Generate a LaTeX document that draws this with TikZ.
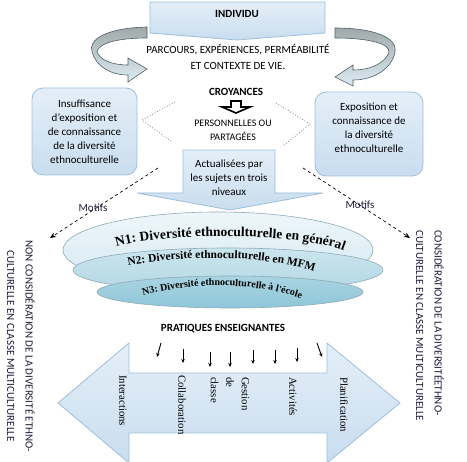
\documentclass[tikz,border=0pt]{standalone}
\usepackage{fontspec}
\setmainfont{Carlito}
\newfontfamily\tnr{Liberation Serif}
\usetikzlibrary{arrows.meta,decorations.text}
\definecolor{boxtop}{HTML}{E4EFF8}
\definecolor{boxbot}{HTML}{C9DDEF}
\definecolor{boxline}{HTML}{9DBEDC}
\definecolor{ribgray}{HTML}{A0A9A9}
\definecolor{ribblue}{HTML}{DCEBF4}
\definecolor{ribline}{HTML}{4F5F66}
\definecolor{eline}{HTML}{8FAAB8}
\definecolor{eone}{HTML}{D3E9F1}
\definecolor{eonel}{HTML}{EEF6FA}
\definecolor{etwo}{HTML}{B3D8E4}
\definecolor{etwol}{HTML}{CBE5EE}
\definecolor{ethree}{HTML}{8FC6D8}
\definecolor{ethreel}{HTML}{A9D4E2}
\definecolor{navy}{HTML}{1C1C3C}
\begin{document}
\begin{tikzpicture}[x=1pt,y=-1pt,
  txt/.style={font=\fontsize{11}{14}\selectfont, inner sep=0pt, align=center, text=black},
  btxt/.style={font=\fontsize{11}{14}\selectfont\bfseries, inner sep=0pt, align=center},
  blue/.style={draw=boxline, line width=0.8pt, top color=boxtop, bottom color=boxbot},
  ribbon/.style={draw=ribline, line width=0.6pt, top color=ribgray, bottom color=ribblue},
  ser/.style={font=\tnr\fontsize{10.8}{15.5}\selectfont, inner sep=0pt, rotate=-90, anchor=west, align=left},
  side/.style={font=\fontsize{11}{18.5}\selectfont, inner sep=0pt, rotate=-90, anchor=west, text=navy},
  small/.style={-{Stealth[length=4pt,width=3.5pt]}, line width=0.9pt},
  motif/.style={dashed, line width=0.7pt, -{Stealth[length=6pt,width=5pt]}}
]
\useasboundingbox (0,0) rectangle (467,462);

% INDIVIDU top shape
\path[blue] (150,2) -- (325,2) -- (325,33) -- (237,40) -- (150,33) -- cycle;
\node[btxt] (individu) at (237,14) {INDIVIDU};

% curved arrows
\path[ribbon] (147,27) .. controls (105,28) and (88,40) .. (92,52)
  .. controls (96,66) and (110,75) .. (128,75) -- (128,82) -- (147,69) -- (128,58) -- (128,65)
  .. controls (112,65) and (100,60) .. (97,52) .. controls (98,44) and (115,38) .. (147,38) -- cycle;
\path[ribbon] (335,28) .. controls (375,28) and (398,38) .. (395,52)
  .. controls (392,68) and (375,80) .. (353,80) -- (353,86) -- (335,77) -- (353,65) -- (353,70)
  .. controls (372,70) and (386,62) .. (389,52) .. controls (390,44) and (370,38) .. (335,38) -- cycle;

\node[txt] (parcours) at (238,57) {PARCOURS, EXPÉRIENCES, PERMÉABILITÉ\\[2pt]ET CONTEXTE DE VIE.};

% CROYANCES
\node[btxt] (croy) at (236,92) {CROYANCES};
\path[draw=black, line width=1.6pt, fill=white] (231,101) -- (241,101) -- (241,107) -- (250,107) -- (236,113) -- (222,107) -- (231,107) -- cycle;
\node[txt, font=\fontsize{10}{14}\selectfont] (perso) at (233,130) {PERSONNELLES OU\\PARTAGÉES};

% dotted diamond
\draw[gray, dotted, line width=0.8pt] (175,102) -- (142,120) -- (172,142);
\draw[gray, dotted, line width=0.8pt] (276,103) -- (310,124) -- (283,146);

% side boxes
\node[blue, rounded corners=11pt, minimum width=105pt, minimum height=87pt, inner sep=0pt] (lbox) at (84.5,131.5) {};
\node[txt] (ltext) at (84.5,131.5) {Insuffisance\\d’exposition et\\de connaissance\\de la diversité\\ethnoculturelle};
\node[blue, rounded corners=11pt, minimum width=108pt, minimum height=84pt, inner sep=0pt] (rbox) at (369,134) {};
\node[txt] (rtext) at (369,127.5) {Exposition et\\connaissance de\\la diversité\\ethnoculturelle};

% ellipses
\path[draw=eline, line width=0.6pt, top color=eonel, bottom color=eone] (218,250) ellipse [x radius=155pt, y radius=38pt];
\path[draw=eline, line width=0.6pt, top color=etwol, bottom color=etwo] (228,270) ellipse [x radius=155pt, y radius=22pt];
\path[draw=eline, line width=0.6pt, top color=ethreel, bottom color=ethree] (230,292) ellipse [x radius=133pt, y radius=16pt];

% Actualisées arrow
\path[blue] (183,150) -- (275,150) -- (275,193) -- (323,193) -- (230,210) -- (137,193) -- (183,193) -- cycle;
\node[txt] (actu) at (229,178) {Actualisées par\\les sujets en trois\\niveaux};

% curved labels
\path[decorate, decoration={text along path, text align=center,
  text={|\tnr\bfseries\fontsize{13.5}{13.5}\selectfont|N1: Diversité ethnoculturelle en général}}]
  (110,249) .. controls (150,232) and (305,231) .. (350,253);
\path[decorate, decoration={text along path, text align=center,
  text={|\tnr\bfseries\fontsize{11.5}{11.5}\selectfont|N2: Diversité ethnoculturelle en MFM}}]
  (120,267) .. controls (180,255) and (262,253) .. (322,274);
\path[decorate, decoration={text along path, text align=center,
  text={|\tnr\bfseries\fontsize{10}{10}\selectfont|N3: Diversité ethnoculturelle à l'école}}]
  (136,298) .. controls (190,281) and (255,281) .. (308,301);

% Motifs dashed arrows
\coordinate (ml1) at (158,168); \coordinate (ml2) at (50,238);
\coordinate (mr1) at (303,168); \coordinate (mr2) at (410,238);
\draw[motif] (ml1) -- (ml2);
\draw[motif] (mr1) -- (mr2);
\node[txt, text=navy] (motl) at (93,208) {Motifs};
\node[txt, text=navy] (motr) at (360,205) {Motifs};

% side texts
\node[side, align=center] (sidel) at (21,240) {NON CONSIDÉRATION DE LA DIVERSITÉ ETHNO-\\CULTURELLE EN CLASSE MULTICULTURELLE};
\node[side, align=left] (sider) at (430,230) {CONSIDÉRATION DE LA DIVERSITÉETHNO-\\CULTURELLE EN CLASSE MULTICULTURELLE};

% PRATIQUES
\node[btxt] (prat) at (223,329) {PRATIQUES ENSEIGNANTES};

% double arrow
\path[blue] (58,403) -- (129,343) -- (129,373) -- (327,373) -- (327,343) -- (400,403) -- (327,463) -- (327,433) -- (129,433) -- (129,463) -- cycle;

% small arrows
\foreach \i/\xa/\ya/\xb/\yb in {1/161/343/157/357, 2/183/349/183/363, 3/210/352/210/367, 4/230/352/230/367, 5/253/350/253/364, 6/275/350/275/364, 7/297/348/297/362, 8/317/343/322/357}{
  \coordinate (sa\i) at (\xa,\ya); \coordinate (sb\i) at (\xb,\yb);
  \draw[small] (sa\i) -- (sb\i);
}

% rotated labels
\node[ser] (inter) at (123,375) {Interactions};
\node[ser] (collab) at (182,375) {Collaboration};
\node[ser] (gestion) at (230,377) {Gestion\\de\\classe};
\node[ser] (activ) at (293,377) {Activités};
\node[ser] (planif) at (344,377) {Planification};
\end{tikzpicture}
\end{document}
